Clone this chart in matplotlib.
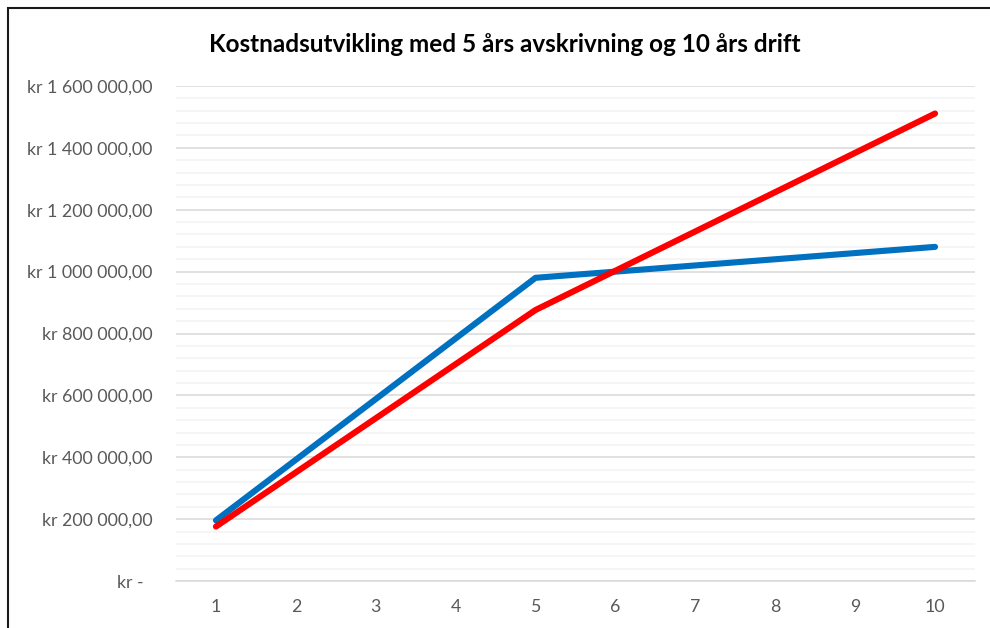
import matplotlib.pyplot as plt
from matplotlib.ticker import FuncFormatter, MultipleLocator
from matplotlib.patches import Rectangle

# ==========================
# DATA
# ==========================

years = [1, 2, 3, 4, 5, 6, 7, 8, 9, 10]

blue_cost = [196000, 392000, 588000, 784000, 980000,
             1000000, 1020000, 1040000, 1060000, 1080000]

red_cost = [176000, 351000, 526000, 701000, 876000,
            1003000, 1130000, 1257000, 1384000, 1511000]

title = "Kostnadsutvikling med 5 års avskrivning og 10 års drift"

# ==========================
# STYLE
# ==========================

plt.rcParams["font.family"] = ["Lato", "DejaVu Sans"]


def kr_format(v, pos):
    if v == 0:
        return "kr -  "
    s = f"{v:,.2f}".replace(",", " ").replace(".", ",")
    return "kr " + s


# ==========================
# PLOT
# ==========================

fig = plt.figure(figsize=(9.9, 6.28), dpi=100)
ax = fig.add_axes([176 / 990, 1 - 581 / 628, 799 / 990, 495 / 628])

ax.plot(years, blue_cost, color="#0070C0", linewidth=4.4,
        solid_capstyle="round", solid_joinstyle="round", zorder=3)
ax.plot(years, red_cost, color="#FF0000", linewidth=4.4,
        solid_capstyle="round", solid_joinstyle="round", zorder=4)

ax.set_xlim(0.5, 10.5)
ax.set_ylim(0, 1600000)
ax.set_xticks(years)

ax.yaxis.set_major_locator(MultipleLocator(200000))
ax.yaxis.set_minor_locator(MultipleLocator(40000))
ax.yaxis.set_major_formatter(FuncFormatter(kr_format))

ax.grid(which="major", axis="y", color="#D9D9D9", linewidth=1.1, zorder=1)
ax.grid(which="minor", axis="y", color="#F2F2F2", linewidth=1.1, zorder=1)
ax.set_axisbelow(True)

for side in ["top", "right", "left"]:
    ax.spines[side].set_visible(False)
ax.spines["bottom"].set_color("#D9D9D9")
ax.spines["bottom"].set_linewidth(1.1)

ax.tick_params(axis="both", which="both", length=0, colors="#595959",
               labelsize=12.8)
ax.tick_params(axis="y", pad=17)
ax.tick_params(axis="x", pad=13)

fig.text(505 / 990, 1 - 45 / 628, title, ha="center", va="center",
         fontsize=17.5, fontweight="bold", color="black")

# chart border
fig.patches.append(Rectangle((8 / 990, -0.1), 1.2, 1.1 - 8 / 628,
                             transform=fig.transFigure, fill=False,
                             edgecolor="#1a1a1a", linewidth=1.5))

plt.savefig("out.png", dpi=100)
plt.close()
